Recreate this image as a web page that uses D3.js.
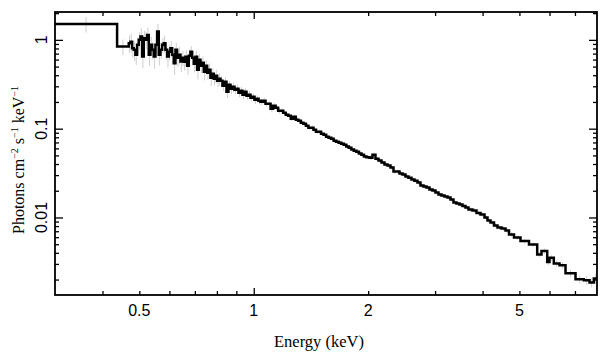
<!DOCTYPE html>
<html><head><meta charset="utf-8">
<script src="https://cdn.jsdelivr.net/npm/d3@7"></script>
<style>html,body{margin:0;padding:0;background:#fff;}</style>
</head><body>
<svg id="chart" width="609" height="357"></svg>
<script>
// ---- data (energy bin edges in keV, flux in photons cm^-2 s^-1 keV^-1, fractional error) ----
const binEdges = [
  0.3, 0.437,
  0.4690, 0.4738, 0.4786, 0.4834, 0.4883, 0.4933, 0.4983, 0.5034, 0.5085, 0.5136,
  0.5189, 0.5241, 0.5294, 0.5348, 0.5402, 0.5457, 0.5513, 0.5569, 0.5625, 0.5682,
  0.5740, 0.5798, 0.5857, 0.5917, 0.5977, 0.6037, 0.6099, 0.6160, 0.6223, 0.6286,
  0.6350, 0.6414, 0.6479, 0.6545,
  0.6612, 0.6679, 0.6747, 0.6815, 0.6884, 0.6954, 0.7025, 0.7096, 0.7168, 0.7241,
  0.7314, 0.7389, 0.7464, 0.7539, 0.7616, 0.7693, 0.7771, 0.7850, 0.7930, 0.8010,
  0.8092, 0.8174,
  0.8274, 0.8374, 0.8477, 0.8580, 0.8685, 0.8791, 0.8898, 0.9006, 0.9116, 0.9227,
  0.9340, 0.9454, 0.9569, 0.9686, 0.9804, 0.9923, 1.0044, 1.0167, 1.0291, 1.0416,
  1.0577, 1.0739, 1.0905, 1.1073, 1.1244, 1.1417, 1.1593, 1.1771, 1.1953, 1.2137,
  1.2324, 1.2514, 1.2706, 1.2902, 1.3101, 1.3303, 1.3508, 1.3716, 1.3927, 1.4142,
  1.4360, 1.4581, 1.4806, 1.5034, 1.5266, 1.5501, 1.5740, 1.5982, 1.6228, 1.6479,
  1.6733, 1.6990, 1.7252, 1.7518, 1.7788, 1.8062, 1.8340, 1.8623, 1.8910, 1.9201,
  1.9497, 1.9797,
  2.0160, 2.0530, 2.0906, 2.1290, 2.1680, 2.2078, 2.2483, 2.2895, 2.3315, 2.3742,
  2.4178, 2.4621, 2.5073, 2.5532, 2.6001, 2.6477, 2.6963, 2.7457, 2.7961, 2.8474,
  2.8996, 2.9528, 3.0069, 3.0621, 3.1182, 3.1754, 3.2336, 3.2930, 3.3534, 3.4148,
  3.4775, 3.5413, 3.6062, 3.6723,
  3.7625, 3.8549, 3.9494, 4.0465, 4.1210, 4.1965, 4.2865, 4.3782, 4.4857, 4.5955,
  4.6941, 4.8386, 5.0330, 5.2990, 5.5687, 5.7158, 5.9169, 5.9998, 6.1582, 6.3748,
  6.6107, 7.0237, 7.3860, 7.6455, 7.8474, 8.0
];
const flux = [
  1.51, 0.841,
  0.918, 0.950, 0.807, 0.772, 0.678, 0.879, 1.0, 1.089, 0.649, 1.045,
  1.0, 1.138, 0.678, 0.879, 0.772, 0.649, 0.879, 1.240, 0.678, 0.772,
  0.879, 0.918, 0.772, 0.649, 0.733, 0.807, 0.678, 0.547, 0.772, 0.628,
  0.678, 0.571, 0.628,
  0.566, 0.644, 0.510, 0.661, 0.733, 0.628, 0.537, 0.644, 0.460, 0.596,
  0.510, 0.551, 0.437, 0.510, 0.426, 0.460, 0.374, 0.415, 0.3645, 0.394,
  0.346, 0.3645,
  0.346, 0.304, 0.337, 0.260, 0.312, 0.281, 0.296, 0.274, 0.281, 0.254,
  0.267, 0.241, 0.260, 0.235, 0.241, 0.223, 0.229, 0.2117, 0.2174, 0.2064,
  0.201, 0.2064, 0.191, 0.191, 0.1678, 0.1813, 0.1722, 0.1593, 0.1593, 0.1513,
  0.1437, 0.1400, 0.1296, 0.1364, 0.1262, 0.1230, 0.1168, 0.1138, 0.1080, 0.1026,
  0.1026, 0.0974, 0.0925, 0.0925, 0.0879, 0.0856, 0.0813, 0.0792, 0.0772, 0.0733,
  0.0714, 0.0696, 0.0678, 0.0661, 0.0628, 0.0611, 0.0581, 0.0566, 0.0551, 0.0524,
  0.0510, 0.0485,
  0.0478, 0.0472, 0.0510, 0.0460, 0.0437, 0.0415, 0.0394, 0.0384, 0.0365, 0.0329,
  0.0329, 0.0312, 0.0304, 0.0289, 0.0281, 0.0267, 0.0260, 0.0247, 0.0229, 0.0223,
  0.0217, 0.0206, 0.0201, 0.0191, 0.0181, 0.0177, 0.0172, 0.0168, 0.0159, 0.01474,
  0.01437, 0.01400, 0.01346, 0.01296,
  0.01230, 0.01199, 0.01124, 0.01081, 0.0100, 0.00925, 0.00879, 0.00813, 0.00772, 0.00752,
  0.00714, 0.00644, 0.00596, 0.00542, 0.00497, 0.00384, 0.00418, 0.00315, 0.00352, 0.00304,
  0.00289, 0.00235, 0.00201, 0.00197, 0.00185, 0.00206
];
const fracErr = [
  0.20, 0.20,
  0.22, 0.24, 0.21, 0.25, 0.23, 0.20, 0.22, 0.24, 0.26, 0.21,
  0.22, 0.20, 0.25, 0.23, 0.22, 0.27, 0.20, 0.22, 0.24, 0.21,
  0.20, 0.22, 0.23, 0.25, 0.20, 0.21, 0.22, 0.26, 0.20, 0.21,
  0.22, 0.24, 0.20,
  0.20, 0.18, 0.21, 0.17, 0.16, 0.18, 0.20, 0.17, 0.22, 0.16,
  0.17, 0.18, 0.20, 0.16, 0.17, 0.18, 0.19, 0.15, 0.16, 0.17,
  0.15, 0.16,
  0.13, 0.12, 0.12, 0.15, 0.11, 0.12, 0.12, 0.11, 0.12, 0.11,
  0.10, 0.11, 0.10, 0.10, 0.10, 0.09, 0.09, 0.10, 0.09, 0.09,
  0.08, 0.08, 0.08, 0.07, 0.09, 0.07, 0.07, 0.07, 0.07, 0.06,
  0.06, 0.06, 0.06, 0.06, 0.06, 0.06, 0.06, 0.06, 0.06, 0.06,
  0.06, 0.06, 0.06, 0.06, 0.06, 0.06, 0.06, 0.06, 0.06, 0.06,
  0.06, 0.06, 0.06, 0.06, 0.06, 0.06, 0.06, 0.06, 0.06, 0.06,
  0.06, 0.06,
  0.06, 0.06, 0.06, 0.06, 0.06, 0.06, 0.06, 0.06, 0.06, 0.06,
  0.06, 0.06, 0.06, 0.06, 0.06, 0.06, 0.06, 0.06, 0.06, 0.06,
  0.06, 0.06, 0.06, 0.06, 0.06, 0.06, 0.06, 0.06, 0.06, 0.06,
  0.06, 0.06, 0.06, 0.06,
  0.06, 0.06, 0.06, 0.06, 0.06, 0.06, 0.06, 0.06, 0.06, 0.06,
  0.06, 0.06, 0.06, 0.06, 0.06, 0.07, 0.07, 0.08, 0.08, 0.08,
  0.08, 0.09, 0.10, 0.12, 0.12, 0.13
];
const xMinorTicks = [0.4, 0.5, 0.6, 0.7, 0.8, 0.9, 2, 3, 4, 5, 6, 7];
const xMajorTicks = [1];
const xTickLabels = [0.5, 1, 2, 5];
const yMajorTicks = [0.01, 0.1, 1];
const yMinorTicks = [0.002, 0.003, 0.004, 0.005, 0.006, 0.007, 0.008, 0.009,
                     0.02, 0.03, 0.04, 0.05, 0.06, 0.07, 0.08, 0.09,
                     0.2, 0.3, 0.4, 0.5, 0.6, 0.7, 0.8, 0.9, 2];
const yTickLabels = ["0.01", "0.1", "1"];
const xDomain = [0.3, 8];
const yDomain = [0.00134, 2.06];

// ---- drawing ----
const L = 55, R = 597, T = 12, B = 295;
const svg = d3.select("#chart");
const x = d3.scaleLog().domain(xDomain).range([L, R]);
const y = d3.scaleLog().domain(yDomain).range([B, T]);

svg.append("defs").append("clipPath").attr("id", "clip")
  .append("rect").attr("x", L).attr("y", T).attr("width", R - L).attr("height", B - T);

const plot = svg.append("g").attr("clip-path", "url(#clip)");

const bins = flux.map((v, i) => ({lo: binEdges[i], hi: binEdges[i + 1], v, e: fracErr[i]}));

// error bars
plot.append("g").selectAll("line").data(bins).join("line")
  .attr("x1", d => x(Math.sqrt(d.lo * d.hi)))
  .attr("x2", d => x(Math.sqrt(d.lo * d.hi)))
  .attr("y1", d => y(d.v * (1 + d.e)))
  .attr("y2", d => y(d.v * (1 - d.e)))
  .attr("stroke", "#cfcfcf").attr("stroke-width", 1);

// step histogram
const pts = bins.flatMap(d => [[d.lo, d.v], [d.hi, d.v]]);
plot.append("path").datum(pts)
  .attr("d", d3.line().x(d => x(d[0])).y(d => y(d[1])))
  .attr("fill", "none").attr("stroke", "#000").attr("stroke-width", 2.5)
  .attr("stroke-linejoin", "miter");

// ticks (inward on all four sides)
function ticks(axisFn, scale, vals, len, tr) {
  const g = svg.append("g").attr("transform", tr)
    .call(axisFn(scale).tickValues(vals).tickSize(-len).tickFormat(""));
  g.select(".domain").remove();
  g.selectAll("line").attr("stroke", "#000").attr("stroke-width", 1.3);
}
ticks(d3.axisBottom, x, xMinorTicks, 4, `translate(0,${B})`);
ticks(d3.axisBottom, x, xMajorTicks, 7, `translate(0,${B})`);
ticks(d3.axisTop, x, xMinorTicks, 4, `translate(0,${T})`);
ticks(d3.axisTop, x, xMajorTicks, 7, `translate(0,${T})`);
ticks(d3.axisLeft, y, yMinorTicks, 4, `translate(${L},0)`);
ticks(d3.axisLeft, y, yMajorTicks, 8, `translate(${L},0)`);
ticks(d3.axisRight, y, yMinorTicks, 4, `translate(${R},0)`);
ticks(d3.axisRight, y, yMajorTicks, 8, `translate(${R},0)`);

// frame
svg.append("rect").attr("x", L).attr("y", T).attr("width", R - L).attr("height", B - T)
  .attr("fill", "none").attr("stroke", "#000").attr("stroke-width", 1.8);

// tick labels
svg.append("g").selectAll("text").data(xTickLabels).join("text")
  .attr("x", d => x(d)).attr("y", 316)
  .attr("text-anchor", "middle")
  .attr("font-family", "'Liberation Sans', Arial, sans-serif").attr("font-size", 16)
  .text(d => String(d));

svg.append("g").selectAll("text").data(yMajorTicks).join("text")
  .attr("transform", d => `translate(47,${y(d)}) rotate(-90)`)
  .attr("text-anchor", "middle")
  .attr("font-family", "'Liberation Sans', Arial, sans-serif").attr("font-size", 16)
  .text((d, i) => yTickLabels[i]);

// axis titles
svg.append("text").attr("x", 319).attr("y", 347).attr("text-anchor", "middle")
  .attr("font-family", "'Liberation Serif', 'Times New Roman', serif").attr("font-size", 16.5)
  .text("Energy (keV)");

const yt = svg.append("text")
  .attr("transform", "translate(24,160) rotate(-90)")
  .attr("text-anchor", "middle")
  .attr("font-family", "'Liberation Serif', 'Times New Roman', serif").attr("font-size", 16);
const parts = [["Photons cm", false], ["\u22122", true], [" s", false], ["\u22121", true], [" keV", false], ["\u22121", true]];
parts.forEach(([t, sup], i) => {
  const ts = yt.append("tspan").text(t);
  const prevSup = i > 0 && parts[i - 1][1];
  if (sup) ts.attr("font-size", 10).attr("dy", -6);
  else if (prevSup) ts.attr("dy", 6);
});
</script>
</body></html>
